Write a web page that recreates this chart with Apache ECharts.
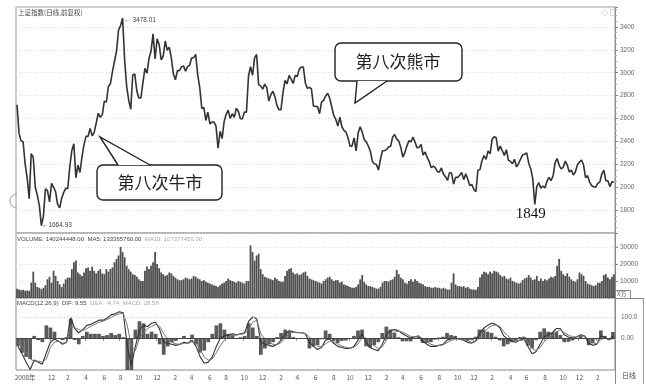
<!DOCTYPE html>
<html>
<head>
<meta charset="utf-8">
<script src="https://cdn.jsdelivr.net/npm/echarts@6/dist/echarts.min.js"></script>
<style>
html,body{margin:0;padding:0;background:#fff;}
#chart{width:646px;height:384px;}
</style>
</head>
<body>
<div id="chart"></div>
<script>
// Shanghai Composite, one sample per calendar week, first week starting 2008-08-04
const firstWeek = '2008-08-04';

const weeklyIndex = [
  2720, 2470, 2405, 2397, 2203, 2079, 1900, 2293, 2260, 2000,
  1930, 1839, 1664.93, 1747, 1986, 1970, 1871, 2034, 2000, 1960,
  1850, 1820, 1904, 1955, 1990, 1990, 2181, 2320, 2380, 2082,
  2193, 2129, 2265, 2374, 2444, 2445, 2513, 2449, 2477, 2560,
  2646, 2610, 2632, 2751, 2744, 2880, 2904, 3009, 3100, 3189,
  3372, 3412, 3478.01, 3112, 2880, 2760, 2680, 2980, 2990, 2840,
  2779, 2779, 2911, 3038, 2995, 3125, 3187, 3340, 3120, 3296,
  3247, 3113, 3145, 3277, 3196, 3224, 3128, 2990, 2939, 3018,
  3018, 3051, 3060, 3014, 3054, 3067, 3129, 3132, 3160, 2979,
  2870, 2688, 2697, 2583, 2656, 2553, 2569, 2569, 2534, 2340,
  2489, 2425, 2573, 2637, 2672, 2600, 2642, 2611, 2689, 2663,
  2598, 2599, 2656, 2656, 2971, 3052, 2978, 3129, 3159, 2894,
  2885, 2857, 2900, 2870, 2753, 2808, 2838, 2791, 2715, 2677,
  2677, 2828, 2932, 2904, 2976, 2944, 2906, 2977, 2967, 3030,
  3050, 3050, 2911, 2863, 2872, 2858, 2709, 2705, 2705, 2642,
  2746, 2759, 2797, 2820, 2777, 2701, 2626, 2593, 2534, 2612,
  2528, 2497, 2482, 2432, 2359, 2359, 2431, 2317, 2473, 2528,
  2481, 2416, 2395, 2360, 2315, 2225, 2204, 2199, 2150, 2244,
  2319, 2319, 2330, 2351, 2357, 2439, 2460, 2420, 2404, 2349,
  2263, 2302, 2359, 2406, 2396, 2438, 2394, 2344, 2348, 2373,
  2281, 2307, 2260, 2225, 2170, 2185, 2169, 2136, 2132, 2168,
  2115, 2092, 2059, 2127, 2123, 2026, 2086, 2086, 2105, 2129,
  2066, 2117, 2069, 2015, 2024, 1980, 1960, 2150, 2153, 2233,
  2276, 2243, 2317, 2292, 2419, 2440, 2432, 2314, 2359, 2318,
  2278, 2328, 2237, 2225, 2206, 2244, 2177, 2205, 2246, 2283,
  2288, 2300, 2210, 2162, 2073, 1849, 2007, 2039, 1992, 2010,
  1994, 2052, 2085, 2057, 2098, 2212, 2250, 2191, 2160, 2174,
  2228, 2193, 2133, 2149, 2106, 2135, 2196, 2220, 2238, 2196,
  2084, 2101, 2045, 2013, 2004, 2000, 2033, 2044, 2115, 2150,
  2056, 2057, 2004, 2047, 2046
];

// weekly turnover, unit: 10k
const weeklyVolume = [
  5500, 5000, 4600, 4800, 4300, 4400, 4200, 9000, 15500, 9000,
  6500, 6000, 5200, 6000, 7500, 11000, 12500, 9000, 16000, 13000,
  10000, 8000, 6500, 8500, 11000, 12000, 12000, 17000, 21000, 22000,
  15000, 14000, 13000, 15000, 17500, 18000, 16000, 18500, 16000, 14500,
  16000, 17000, 14500, 14000, 17000, 15500, 17000, 18000, 21000, 23000,
  25000, 30000, 27000, 24000, 19000, 17000, 15500, 14000, 13500, 12500,
  11000, 10000, 10000, 16000, 18500, 17000, 19000, 21000, 27000, 20000,
  17500, 15000, 14000, 13000, 13500, 15000, 14500, 13000, 12000, 11000,
  10500, 10500, 11000, 12000, 11500, 11000, 11500, 13000, 12500, 11500,
  11000, 10000, 10500, 9500, 9000, 8500, 8000, 7500, 7000, 6500,
  7500, 8500, 9000, 10000, 11500, 10500, 10000, 9500, 9000, 10000,
  9500, 9000, 8500, 10000, 10000, 31000, 27000, 22000, 25000, 26000,
  17000, 14000, 12500, 12000, 11500, 11000, 10500, 12000, 11000, 10000,
  9500, 9500, 13000, 16000, 17000, 17500, 15000, 14000, 14500, 13500,
  14000, 15000, 15500, 13000, 11500, 11000, 10500, 10000, 9500, 9000,
  8500, 10000, 11000, 12000, 12500, 11000, 10000, 10500, 10500, 9000,
  9500, 8000, 7500, 7000, 6500, 6000, 6000, 6500, 8000, 11000,
  13500, 9500, 8000, 7000, 7000, 6500, 6000, 5500, 5500, 6500,
  9000, 10000, 10000, 9500, 10500, 11000, 12500, 16500, 14000, 12000,
  11000, 9000, 8500, 10000, 11000, 9500, 11000, 10000, 9000, 8500,
  8000, 7000, 6500, 6500, 6000, 6000, 6500, 6000, 6000, 5500,
  6000, 5500, 5000, 5000, 9000, 14500, 8000, 7000, 7000, 6500,
  7000, 6000, 6500, 5500, 5000, 5000, 4800, 6500, 12000, 14000,
  15500, 15000, 14000, 15500, 14500, 16000, 15500, 15000, 13500, 12500,
  13000, 11500, 11000, 12000, 10000, 9500, 9000, 8500, 9000, 10500,
  11500, 12000, 13500, 12000, 10500, 11000, 13000, 10000, 11500, 10000,
  11000, 10500, 11500, 12500, 12000, 13000, 19000, 23000, 16000, 14000,
  13000, 14500, 12500, 11000, 10000, 9500, 11000, 15000, 14000, 13000,
  10000, 8500, 8000, 7500, 7000, 7500, 9000, 9000, 10000, 13500,
  14000, 12000, 11000, 12500, 14000
];

// MACD(12,26,9) readings, one every second week
const difEveryTwoWeeks = [
  -40, -75, -115, -150, -105, -115, -125, -70, -20, -5,
  -15, -30, -20, 100, 45, 25, 40, 60, 65, 75,
  85, 85, 95, 110, 115, 125, 120, -40, -130, -40,
  40, 60, 55, 70, 75, 40, -20, -25, -30, -35,
  -30, -20, -25, -10, -40, -90, -120, -115, -90, -40,
  0, 10, 15, 20, 15, 20, 25, 80, 100, 90,
  -20, -30, -35, -40, -30, -10, 20, 35, 30, 25,
  25, 20, -20, -40, -55, -45, -10, -5, -25, -40,
  -45, -50, -50, -40, -10, 20, -20, -45, -55, -60,
  -30, 15, 35, 40, 35, 20, 10, 0, 5, 10,
  -15, -30, -40, -40, -35, -30, -10, -5, 0, -5,
  -10, -20, -25, -15, 20, 45, 60, 70, 65, 50,
  10, -5, -15, -20, -10, -5, -40, -75, -65, -30,
  5, 15, 25, 45, 45, 15, 5, 0, 5, 15,
  10, -25, -35, -30, 10, 5, -10, 9.55
];
const deaEveryTwoWeeks = [
  -20, -40, -70, -100, -110, -110, -115, -100, -45, -20,
  -15, -25, -22, 55, 50, 40, 35, 45, 55, 65,
  75, 80, 88, 98, 108, 115, 118, 60, -40, -60,
  0, 25, 45, 55, 65, 55, 20, -5, -20, -28,
  -30, -25, -25, -18, -25, -55, -90, -105, -100, -70,
  -35, -10, 5, 12, 15, 18, 20, 45, 75, 85,
  20, -5, -20, -30, -32, -22, 0, 20, 28, 27,
  25, 22, 5, -20, -38, -42, -28, -15, -18, -28,
  -38, -44, -48, -45, -28, 0, 0, -22, -38, -50,
  -42, -12, 15, 28, 33, 28, 18, 8, 5, 7,
  -3, -18, -30, -36, -36, -33, -22, -12, -5, -5,
  -7, -13, -20, -18, 0, 25, 45, 58, 62, 56,
  30, 10, -5, -13, -12, -8, -22, -50, -60, -45,
  -18, 0, 12, 30, 38, 25, 14, 6, 5, 10,
  10, -8, -22, -27, -8, 0, -6, -4.74
];

// time axis labels and the month each one marks
const tickLabels = ['2008年','12',
  '2','4','6','8','10','12',
  '2','4','6','8','10','12',
  '2','4','6','8','10','12',
  '2','4','6','8','10','12',
  '2','4','6','8','10','12',
  '2'];
const tickDates = ['2008-09-01','2008-12-01',
  '2009-02-01','2009-04-01','2009-06-01','2009-08-01','2009-10-01','2009-12-01',
  '2010-02-01','2010-04-01','2010-06-01','2010-08-01','2010-10-01','2010-12-01',
  '2011-02-01','2011-04-01','2011-06-01','2011-08-01','2011-10-01','2011-12-01',
  '2012-02-01','2012-04-01','2012-06-01','2012-08-01','2012-10-01','2012-12-01',
  '2013-02-01','2013-04-01','2013-06-01','2013-08-01','2013-10-01','2013-12-01',
  '2014-02-01'];

const headerVolume = 'VOLUME: 140244448.00  MA5: 133365760.00  ';
const headerVolumeMa10 = 'MA10: 107377456.00';
const headerMacd = 'MACD(12,26,9)  DIF: 9.55  ';
const headerMacdRest = 'DEA: -4.74  MACD: 28.58';

// ---- derived structures ----
const DAY = 86400000;
function utc(s) { const p = s.split('-').map(Number); return Date.UTC(p[0], p[1] - 1, p[2]); }
const t0 = utc(firstWeek);
const weekOf = s => Math.floor((utc(s) - t0) / (7 * DAY));

const categories = weeklyIndex.map((_, i) => String(i));
const labelAt = {};
tickDates.forEach((d, j) => { labelAt[weekOf(d)] = tickLabels[j]; });

// MACD panel runs on its own two-week category axis
const macdCategories = difEveryTwoWeeks.map((_, k) => String(k * 2));
const macdHist = difEveryTwoWeeks.map((d, k) => +(2 * (d - deaEveryTwoWeeks[k])).toFixed(2));

const lowIdx2013 = weeklyIndex.indexOf(1849);

const NUM = 'Liberation Sans';
const CJK = 'Noto Sans CJK SC';
const L = 16, W = 599;

// speech bubble: rounded box, white tail patch hiding the box edge, and the two tail strokes
function bubble(box, base, tip, text, center) {
  return [
    { type: 'rect', z: 50, shape: { x: box[0], y: box[1], width: box[2], height: box[3], r: 6 },
      style: { fill: '#fff', stroke: '#222', lineWidth: 1.4 } },
    { type: 'polygon', z: 51, shape: { points: [base[0], tip, base[1]] },
      style: { fill: '#fff', stroke: null } },
    { type: 'polyline', z: 52, shape: { points: [base[0], tip, base[1]] },
      style: { fill: null, stroke: '#222', lineWidth: 1.4 } },
    { type: 'text', z: 53, x: center[0], y: center[1],
      style: { text: text, font: '17px "' + CJK + '"', fill: '#222', align: 'center', verticalAlign: 'middle' } }
  ];
}

const chart = echarts.init(document.getElementById('chart'), null, { renderer: 'canvas' });

const hiddenX = (gi, data, pos) => ({
  type: 'category', gridIndex: gi, data: data, boundaryGap: true, position: pos || 'bottom',
  axisLine: { show: false }, axisTick: { show: false }, axisLabel: { show: false },
  splitLine: { show: false }
});
const plain = v => String(v);

const option = {
  animation: false,
  backgroundColor: '#fff',
  textStyle: { fontFamily: NUM },
  grid: [
    { left: L, width: W, top: 7, height: 226, show: true, borderColor: '#9a9a9a', borderWidth: 1, backgroundColor: 'transparent' },
    { left: L, width: W, top: 233, height: 65, show: true, borderColor: '#9a9a9a', borderWidth: 1, backgroundColor: 'transparent' },
    { left: L, width: W, top: 298, height: 72, show: true, borderColor: '#8a8a8a', borderWidth: 1, backgroundColor: 'transparent' }
  ],
  xAxis: [
    hiddenX(0, categories),
    hiddenX(1, categories),
    Object.assign(hiddenX(2, categories), {
      axisLine: { show: true, lineStyle: { color: '#888', width: 1 } },
      axisTick: { show: true, interval: i => labelAt[i] !== undefined, length: 3, lineStyle: { color: '#999' } },
      axisLabel: {
        show: true, interval: i => labelAt[i] !== undefined,
        formatter: (v, i) => labelAt[i] || '',
        fontSize: 6.5, color: '#555', margin: 4, fontFamily: CJK
      }
    }),
    hiddenX(2, macdCategories, 'top')
  ],
  yAxis: [
    {
      type: 'value', gridIndex: 0, position: 'right', min: 1600, max: 3574, interval: 200,
      axisLine: { show: true, lineStyle: { color: '#888' } },
      axisTick: { show: true, length: 3, lineStyle: { color: '#888' } },
      minorTick: { show: true, splitNumber: 4, length: 2, lineStyle: { color: '#aaa' } },
      axisLabel: { fontSize: 6.5, color: '#666', margin: 5, showMinLabel: false, showMaxLabel: false, formatter: plain },
      splitLine: { show: true, lineStyle: { color: '#d6d6d6', type: [1, 2] } }
    },
    {
      type: 'value', gridIndex: 1, position: 'right', min: 0, max: 38235, interval: 10000,
      axisLine: { show: true, lineStyle: { color: '#888' } },
      axisTick: { show: true, length: 3, lineStyle: { color: '#888' } },
      axisLabel: { fontSize: 6.5, color: '#666', margin: 5, showMinLabel: false, showMaxLabel: false, formatter: plain },
      splitLine: { show: true, lineStyle: { color: '#d6d6d6', type: [1, 2] } }
    },
    {
      type: 'value', gridIndex: 2, position: 'right', min: -152.4, max: 190.5, splitNumber: 3,
      axisLine: { show: true, lineStyle: { color: '#888' } },
      axisTick: { show: false },
      axisLabel: {
        fontSize: 6.5, color: '#666', margin: 6, showMinLabel: false, showMaxLabel: false,
        formatter: v => (v === 100 ? '100.0' : v === 0 ? '0.00' : '')
      },
      splitLine: { show: false }
    }
  ],
  series: [
    {
      name: '上证指数', type: 'line', xAxisIndex: 0, yAxisIndex: 0, data: weeklyIndex,
      symbol: 'none', lineStyle: { color: '#333', width: 1.6 },
      markPoint: {
        silent: true, symbol: 'circle', symbolSize: 1, itemStyle: { color: 'rgba(0,0,0,0)' },
        data: [
          { type: 'max', label: { show: true, position: 'right', distance: 1, offset: [0, 2],
              formatter: p => '\u2190 ' + p.value.toFixed(2), fontSize: 6.5, color: '#444' } },
          { type: 'min', label: { show: true, position: 'right', distance: 0, offset: [0, 0],
              formatter: p => '\u2190' + p.value.toFixed(2), fontSize: 6.5, color: '#444' } },
          { coord: [String(lowIdx2013), weeklyIndex[lowIdx2013]], value: weeklyIndex[lowIdx2013],
            label: { show: true, position: 'bottom', distance: 2, offset: [-4, 0],
              formatter: p => String(p.value), fontSize: 15, color: '#111', fontFamily: 'Liberation Serif' } }
        ]
      }
    },
    {
      name: 'VOLUME', type: 'bar', xAxisIndex: 1, yAxisIndex: 1, data: weeklyVolume,
      barWidth: '88%', itemStyle: { color: '#4e4e4e' }
    },
    {
      name: 'MACD', type: 'bar', xAxisIndex: 3, yAxisIndex: 2, data: macdHist,
      barCategoryGap: '8%', clip: true, itemStyle: { color: '#5a5a5a' },
      markLine: {
        silent: true, symbol: 'none', label: { show: false },
        data: [
          { yAxis: 0, lineStyle: { color: '#444', width: 1, type: 'solid' } },
          { yAxis: 100, lineStyle: { color: '#d0d0d0', width: 1, type: [1, 2] } }
        ]
      }
    },
    {
      name: 'DIF', type: 'line', xAxisIndex: 3, yAxisIndex: 2, data: difEveryTwoWeeks,
      symbol: 'none', lineStyle: { color: '#333', width: 1.1 }
    },
    {
      name: 'DEA', type: 'line', xAxisIndex: 3, yAxisIndex: 2, data: deaEveryTwoWeeks,
      symbol: 'none', lineStyle: { color: '#777', width: 1 }
    }
  ],
  graphic: [
    { type: 'text', x: 18, y: 9, style: { text: '上证指数(日线,前复权)', font: '6.5px "' + CJK + '"', fill: '#444' } },
    { type: 'text', x: 601, y: 9, style: { text: '◇ □', font: '7px "' + CJK + '"', fill: '#888' } },
    { type: 'text', x: 17, y: 236, style: {
        text: '{a|' + headerVolume + '}{b|' + headerVolumeMa10 + '}',
        rich: { a: { fontSize: 6, fontFamily: NUM, fill: '#444' }, b: { fontSize: 6, fontFamily: NUM, fill: '#aaa' } } } },
    { type: 'text', x: 17, y: 300, style: {
        text: '{a|' + headerMacd + '}{b|' + headerMacdRest + '}',
        rich: { a: { fontSize: 6, fontFamily: NUM, fill: '#444' }, b: { fontSize: 6, fontFamily: NUM, fill: '#aaa' } } } },
    { type: 'rect', shape: { x: 615.5, y: 290.5, width: 15, height: 8 }, style: { fill: '#fff', stroke: '#888', lineWidth: 1 } },
    { type: 'text', x: 617, y: 291, style: { text: 'X万', font: '6px "' + CJK + '"', fill: '#555' } },
    { type: 'line', shape: { x1: 615.5, y1: 370, x2: 615.5, y2: 384 }, style: { stroke: '#888', lineWidth: 1 } },
    { type: 'line', shape: { x1: 643.5, y1: 298, x2: 643.5, y2: 384 }, style: { stroke: '#999', lineWidth: 1 } },
    { type: 'line', shape: { x1: 615, y1: 298.5, x2: 644, y2: 298.5 }, style: { stroke: '#888', lineWidth: 1 } },
    { type: 'text', x: 622, y: 372, style: { text: '日线', font: '7px "' + CJK + '"', fill: '#444' } },
    { type: 'arc', shape: { cx: 17, cy: 201, r: 7, startAngle: Math.PI / 2, endAngle: Math.PI * 3 / 2 },
      style: { stroke: '#999', fill: null, lineWidth: 1 } }
  ]
    .concat(bubble([97, 165, 125, 35], [[118, 165], [150, 165]], [100, 137], '第八次牛市', [160, 183]))
    .concat(bubble([335, 43, 127, 38], [[357, 81], [387, 81]], [355, 103], '第八次熊市', [398, 62]))
};

chart.setOption(option);
</script>
</body>
</html>
